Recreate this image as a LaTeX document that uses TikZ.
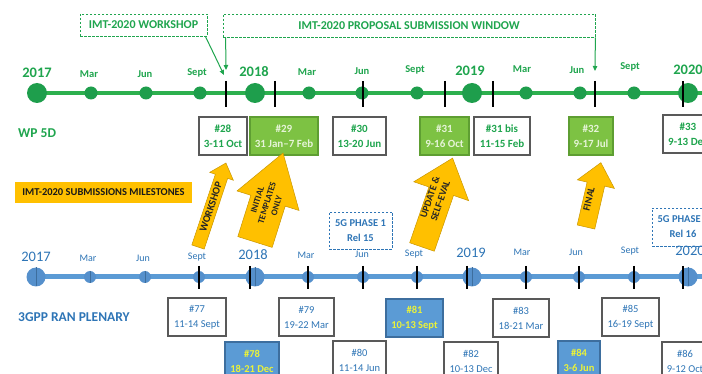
\documentclass[tikz,border=0pt]{standalone}
\usepackage{fontspec}
\setmainfont{Carlito}
\usetikzlibrary{arrows.meta}
\definecolor{gline}{HTML}{2DB04E}
\definecolor{gdot}{HTML}{1E9E4C}
\definecolor{gtext}{HTML}{1FA54E}
\definecolor{gfillc}{HTML}{7DC243}
\definecolor{gfilld}{HTML}{5E9E32}
\definecolor{gfilltext}{HTML}{E6F4D8}
\definecolor{bline}{HTML}{5B9BD5}
\definecolor{bdot}{HTML}{5590CC}
\definecolor{btext}{HTML}{2E75B6}
\definecolor{bfillc}{HTML}{5B9BD5}
\definecolor{bfilld}{HTML}{3D6E9E}
\definecolor{yel}{HTML}{EAF23A}
\definecolor{orng}{HTML}{FFC000}
\definecolor{orngd}{HTML}{C99700}
\definecolor{boxgray}{HTML}{595959}
\newcommand\blockarr[7]{%
 \begin{scope}[shift={(#1,#2)},rotate=#3]
 \draw[arrowbody] (0,-#5/2) -- (#4-#7,-#5/2) -- (#4-#7,-#6/2) -- (#4,0) -- (#4-#7,#6/2) -- (#4-#7,#5/2) -- (0,#5/2) -- cycle;
 \end{scope}}
\begin{document}
\begin{tikzpicture}[x=1pt,y=1pt,
 gbox/.style={draw=boxgray, line width=1.1pt, fill=white, text=gtext, font=\bfseries\fontsize{11}{15}\selectfont, align=center, inner sep=0pt, minimum height=38pt},
 gfbox/.style={gbox, fill=gfillc, draw=gfilld, text=gfilltext},
 bbox/.style={draw=boxgray, line width=1.1pt, fill=white, text=btext, font=\fontsize{10.5}{15}\selectfont, align=center, inner sep=0pt, minimum height=38pt},
 bfbox/.style={bbox, fill=bfillc, draw=bfilld, text=yel, font=\bfseries\fontsize{10.5}{15}\selectfont},
 gdash/.style={draw=gtext, dash pattern=on 2.5pt off 1.5pt, line width=0.8pt, text=gtext, font=\bfseries\fontsize{12}{13}\selectfont, inner sep=0pt},
 bdash/.style={draw=btext, dash pattern=on 2.5pt off 1.5pt, line width=0.8pt, text=btext, font=\bfseries\fontsize{10.5}{15}\selectfont, align=center, inner sep=0pt, minimum height=37pt},
 glab/.style={text=gtext, font=\bfseries\fontsize{10.5}{12}\selectfont},
 gyear/.style={text=gtext, font=\bfseries\fontsize{14.5}{16}\selectfont},
 blab/.style={text=btext, font=\fontsize{10}{12}\selectfont},
 byear/.style={text=btext, font=\fontsize{14.5}{16}\selectfont},
 tickmark/.style={draw=black, line width=1.6pt},
 garrow/.style={draw=gtext, line width=1pt, -{Triangle[length=5pt,width=4.5pt]}},
 arrowbody/.style={fill=orng, draw=orngd, line width=0.5pt},
 arrowtext/.style={text=black!85, font=\bfseries\fontsize{9}{10}\selectfont, align=center, inner sep=0pt},
]
\useasboundingbox (0,0) rectangle (702,-374);
\clip (0,0) rectangle (702,-374);
\fill[white] (0,0) rectangle (702,-374);

% ---------- green timeline ----------
\draw[gline, line width=4pt] (37,-93) -- (710,-93);
\foreach \x in {91,146,200,309,362,417,526,580,634} \fill[gdot] (\x,-93) circle (6.5);
\foreach \x in {37,255,472,688} \fill[gdot] (\x,-93) circle (10);
\foreach \x in {226,275,363,445,493,595,683} \draw[tickmark] (\x,-81) -- (\x,-107);
\foreach \x/\y/\t [count=\i] in {37/73/2017,254/72/2018,470/71/2019,688/70/2020}
  \node[gyear] (gy\i) at (\x,-\y) {\t};
\foreach \x/\y/\t [count=\i] in {89/74/Mar,145/74/Jun,197/73/Sept,307/72/Mar,362/71/Jun,415/70/Sept,522/69/Mar,577/70/Jun,630/67/Sept}
  \node[glab] (gm\i) at (\x,-\y) {\t};

% ---------- top windows ----------
\node[gdash, minimum width=127pt, minimum height=22pt] (wshop) at (143.5,-25) {IMT-2020 WORKSHOP};
\node[gdash, minimum width=372pt, minimum height=23pt] (window) at (409,-25.5) {IMT-2020 PROPOSAL SUBMISSION WINDOW};
\coordinate (wsend) at (224,-75);
\coordinate (winl) at (226,-70);
\coordinate (winr) at (595,-71);
\draw[garrow] ([xshift=-2pt]wshop.south east) -- (wsend);
\draw[garrow] ([xshift=3pt]window.south west) -- (winl);
\draw[garrow] (window.south east) -- (winr);

% ---------- WP 5D ----------
\node[text=gtext, font=\bfseries\fontsize{13.5}{15}\selectfont, anchor=west, inner sep=0pt] (wp) at (18,-133) {WP 5D};
\node[gbox, minimum width=48pt] (w28) at (223,-136) {\#28\\3-11 Oct};
\node[gfbox, minimum width=68pt] (w29) at (284,-136) {\#29\\31 Jan--7 Feb};
\node[gbox, minimum width=53pt] (w30) at (359.5,-136) {\#30\\13-20 Jun};
\node[gfbox, minimum width=49pt] (w31) at (444.5,-136) {\#31\\9-16 Oct};
\node[gbox, minimum width=56pt] (w31b) at (502,-136) {\#31 bis\\11-15 Feb};
\node[gfbox, minimum width=44pt] (w32) at (591,-136) {\#32\\9-17 Jul};
\node[gbox, minimum width=50pt] (w33) at (688,-134) {\#33\\9-13 Dec};

% ---------- milestones ----------
\node[fill=orng, minimum width=177pt, minimum height=21pt, inner sep=0pt, font=\bfseries\fontsize{10.5}{11}\selectfont, text=black!90] (ms) at (103.5,-192.5) {IMT-2020 SUBMISSIONS MILESTONES};
\blockarr{198}{-247}{71.6}{88.5}{13}{25}{14}
\blockarr{255}{-242}{72.5}{93.3}{36}{65}{50}
\blockarr{422}{-247}{71}{94}{26}{58}{35}
\blockarr{586}{-227}{77}{66}{18}{38}{22}
\node[arrowtext, rotate=71.6, font=\bfseries\fontsize{10.5}{11}\selectfont] (a1) at (211,-207) {WORKSHOP};
\node[arrowtext, rotate=72.5] (a2) at (267,-203) {INITIAL\\TEMPLATES\\ONLY};
\node[arrowtext, rotate=71, font=\bfseries\fontsize{10}{11}\selectfont] (a3) at (435,-199) {UPDATE \&\\SELF-EVAL};
\node[arrowtext, rotate=77, font=\bfseries\fontsize{10}{11}\selectfont] (a4) at (589,-199) {FINAL};

% ---------- release boxes ----------
\node[bdash, minimum width=63pt] (r15) at (360.5,-230.5) {5G PHASE 1\\Rel 15};
\node[bdash, minimum width=62pt, minimum height=38pt] (r16) at (683,-227) {5G PHASE\phantom{ 2}\\Rel 16};

% ---------- blue timeline ----------
\draw[bline, line width=5pt] (37,-277) -- (710,-277);
\foreach \x in {90,145,199,308,363,417,526,579,634} {
  \fill[bdot] (\x,-277) circle (6);
  \draw[bfilld, line width=0.4pt] (\x,-271) -- (\x,-283);
}
\foreach \x in {36,255,472,688} {
  \fill[bdot] (\x,-277) circle (9.5);
  \draw[bfilld, line width=0.4pt] (\x,-267.5) -- (\x,-286.5);
}
\foreach \x in {199,250,308,363,417,467,526,579,634,683} \draw[tickmark] (\x,-266) -- (\x,-289);
\foreach \x/\y/\t [count=\i] in {36/257/2017,253/255/2018,471/253/2019,690/251/2020}
  \node[byear] (by\i) at (\x,-\y) {\t};
\foreach \x/\y/\t [count=\i] in {88/258/Mar,143/258/Jun,197/257/Sept,306/255/Mar,362/254/Jun,414/254/Sept,522/252/Mar,576/252/Jun,630/251/Sept}
  \node[blab] (bm\i) at (\x,-\y) {\t};

% ---------- 3GPP ----------
\node[text=btext, font=\bfseries\fontsize{13.5}{15}\selectfont, anchor=west, inner sep=0pt] (gpp) at (18,-317) {3GPP RAN PLENARY};
\node[bbox, minimum width=58pt] (p77) at (197,-317) {\#77\\11-14 Sept};
\node[bbox, minimum width=55pt] (p79) at (306.5,-317) {\#79\\19-22 Mar};
\node[bfbox, minimum width=57pt] (p81) at (414.5,-318) {\#81\\10-13 Sept};
\node[bbox, minimum width=56pt] (p83) at (521,-318) {\#83\\18-21 Mar};
\node[bbox, minimum width=57pt] (p85) at (630.5,-317) {\#85\\16-19 Sept};
\node[bfbox, minimum width=54pt] (p78) at (252,-361) {\#78\\18-21 Dec};
\node[bbox, minimum width=53pt] (p80) at (359.5,-360) {\#80\\11-14 Jun};
\node[bbox, minimum width=54pt] (p82) at (471,-361) {\#82\\10-13 Dec};
\node[bfbox, minimum width=42pt] (p84) at (579,-360) {\#84\\3-6 Jun};
\node[bbox, minimum width=46pt] (p86) at (685,-361) {\#86\\9-12 Oct};
\end{tikzpicture}
\end{document}
